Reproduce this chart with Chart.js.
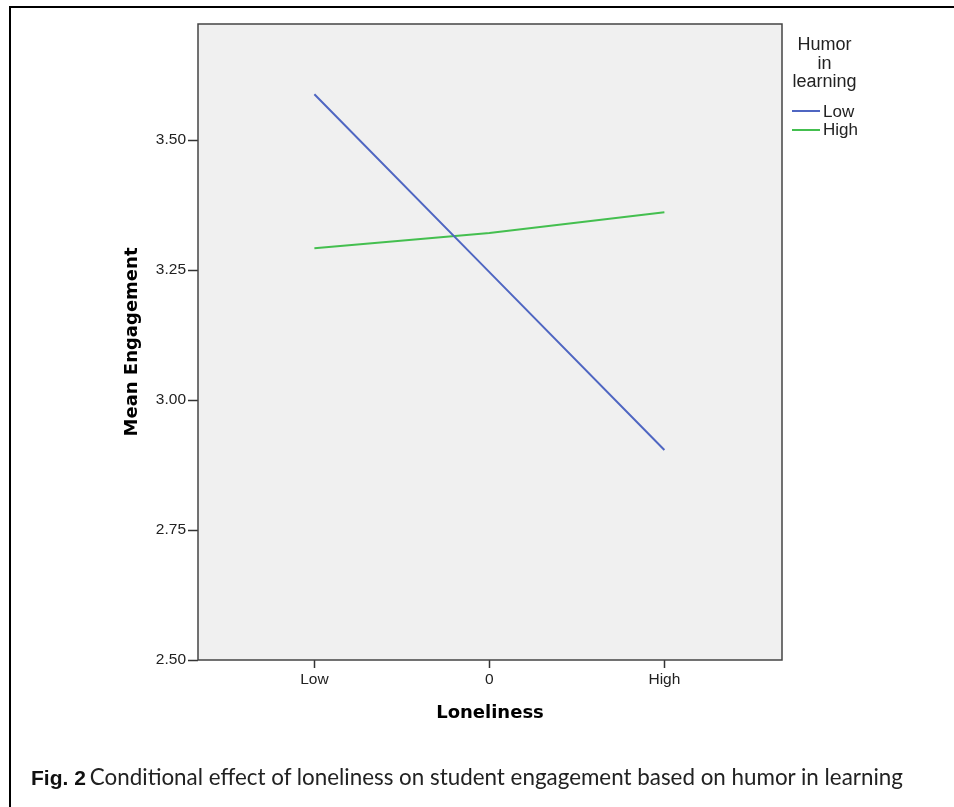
<!DOCTYPE html>
<html>
<head>
<meta charset="utf-8">
<script src="https://cdn.jsdelivr.net/npm/chart.js@4/dist/chart.umd.min.js"></script>
<style>
  html, body { margin: 0; padding: 0; background: #fff; }
  #wrap { position: relative; width: 954px; height: 807px; overflow: hidden; background: #fff; }
  #frame { position: absolute; left: 9px; top: 6px; width: 960px; height: 820px;
           border-left: 2px solid #000; border-top: 2px solid #000; }
  canvas { position: absolute; left: 0; top: 0; }
  #legend { position: absolute; left: 774px; top: 35px; width: 101px; font-family: "Liberation Sans", Arial, sans-serif;
            font-size: 17px; color: #222; }
  #legend .title { text-align: center; line-height: 18.5px; font-size: 18px; }
  #legend .item { position: absolute; left: 18px; height: 18px; line-height: 18px; white-space: nowrap; }
  #legend .swatch { display: inline-block; width: 28px; height: 2px; vertical-align: middle; margin-right: 3px; position: relative; top: -1px; }
  #caption { position: absolute; left: 31px; top: 762px; white-space: nowrap; color: #222; line-height: 30px; }
  #caption .fig { font-family: "Liberation Sans", Arial, sans-serif; font-weight: bold; font-size: 21px; color: #111; }
  #caption .txt { font-family: Lato, "Open Sans", sans-serif; }
</style>
</head>
<body>
<div id="wrap">
  <canvas id="c" width="954" height="807"></canvas>
  <div id="frame"></div>
  <div id="legend"></div>
  <div id="caption"><span class="fig">Fig. 2</span> <span class="txt" id="captxt">Conditional effect of loneliness on student engagement based on humor in learning</span></div>
</div>
<script>
// ---- data ----
const categories = ['Low', '0', 'High'];           // Loneliness levels
const seriesNames = ['Low', 'High'];                // Humor in learning
const humorLowValues  = [3.588, 3.246, 2.904];
const humorHighValues = [3.292, 3.321, 3.361];
const yTickValues = [2.50, 2.75, 3.00, 3.25, 3.50];
const legendTitle = ['Humor', 'in', 'learning'];
const xTitle = 'Loneliness';
const yTitle = 'Mean Engagement';

const colors = ['#4f66c2', '#44bf4f'];

function toPoints(vals) { return vals.map((v, i) => ({ x: i, y: v })); }

const bgPlugin = {
  id: 'plotBg',
  beforeDraw(chart) {
    const { ctx, chartArea: a } = chart;
    ctx.save();
    ctx.fillStyle = '#f0f0f0';
    ctx.fillRect(a.left, a.top, a.right - a.left, a.bottom - a.top);
    ctx.restore();
  },
  beforeDatasetsDraw(chart) {
    const { ctx, chartArea: a } = chart;
    ctx.save();
    ctx.strokeStyle = '#444';
    ctx.lineWidth = 1.5;
    ctx.strokeRect(a.left, a.top, a.right - a.left, a.bottom - a.top);
    ctx.restore();
  }
};

const tickFont = { family: '"Liberation Sans", Arial, sans-serif', size: 15.5 };
const titleFont = { family: '"DejaVu Sans", Verdana, sans-serif', size: 18, weight: 'bold' };

new Chart(document.getElementById('c'), {
  type: 'line',
  data: {
    datasets: [
      { label: seriesNames[0], data: toPoints(humorLowValues), borderColor: colors[0], backgroundColor: colors[0],
        borderWidth: 2, pointRadius: 0, tension: 0 },
      { label: seriesNames[1], data: toPoints(humorHighValues), borderColor: colors[1], backgroundColor: colors[1],
        borderWidth: 2, pointRadius: 0, tension: 0 }
    ]
  },
  options: {
    responsive: false,
    animation: false,
    layout: { padding: { left: 122, top: 24, right: 172, bottom: 83 } },
    plugins: { legend: { display: false }, tooltip: { enabled: false } },
    scales: {
      x: {
        type: 'linear',
        min: -0.665, max: 2.672,
        afterBuildTicks(scale) { scale.ticks = categories.map((c, i) => ({ value: i })); },
        afterFit(scale) { scale.height = 64; },
        ticks: { callback: (v) => categories[v], font: tickFont, color: '#222', padding: 2, maxRotation: 0, autoSkip: false },
        grid: { display: true, drawOnChartArea: false, drawTicks: true, tickLength: 8, tickColor: '#333', tickWidth: 1.5 },
        border: { display: false },
        title: { display: true, text: xTitle, font: titleFont, color: '#000', padding: 0 }
      },
      y: {
        type: 'linear',
        min: 2.5, max: 3.7231,
        afterBuildTicks(scale) { scale.ticks = yTickValues.map(v => ({ value: v })); },
        afterFit(scale) { scale.width = 76; },
        ticks: { callback: (v) => Number(v).toFixed(2), font: tickFont, color: '#222', padding: 2, autoSkip: false },
        grid: { display: true, drawOnChartArea: false, drawTicks: true, tickLength: 10, tickColor: '#333', tickWidth: 1.5 },
        border: { display: false },
        title: { display: true, text: yTitle, font: titleFont, color: '#000', padding: 0 }
      }
    }
  },
  plugins: [bgPlugin]
});

// legend (HTML)
const lg = document.getElementById('legend');
const t = document.createElement('div');
t.className = 'title';
t.innerHTML = legendTitle.join('<br>');
lg.appendChild(t);
seriesNames.forEach((name, i) => {
  const it = document.createElement('div');
  it.className = 'item';
  it.style.top = (67.7 + i * 18.5) + 'px';
  it.innerHTML = '<span class="swatch" style="background:' + colors[i] + '"></span>' + name;
  lg.appendChild(it);
});

// caption font fit
(function () {
  const el = document.getElementById('captxt');
  const cv = document.createElement('canvas').getContext('2d');
  cv.font = '100px Lato';
  const w = cv.measureText(el.textContent).width;
  el.style.fontSize = (814 / w * 100).toFixed(2) + 'px';
})();
</script>
</body>
</html>
